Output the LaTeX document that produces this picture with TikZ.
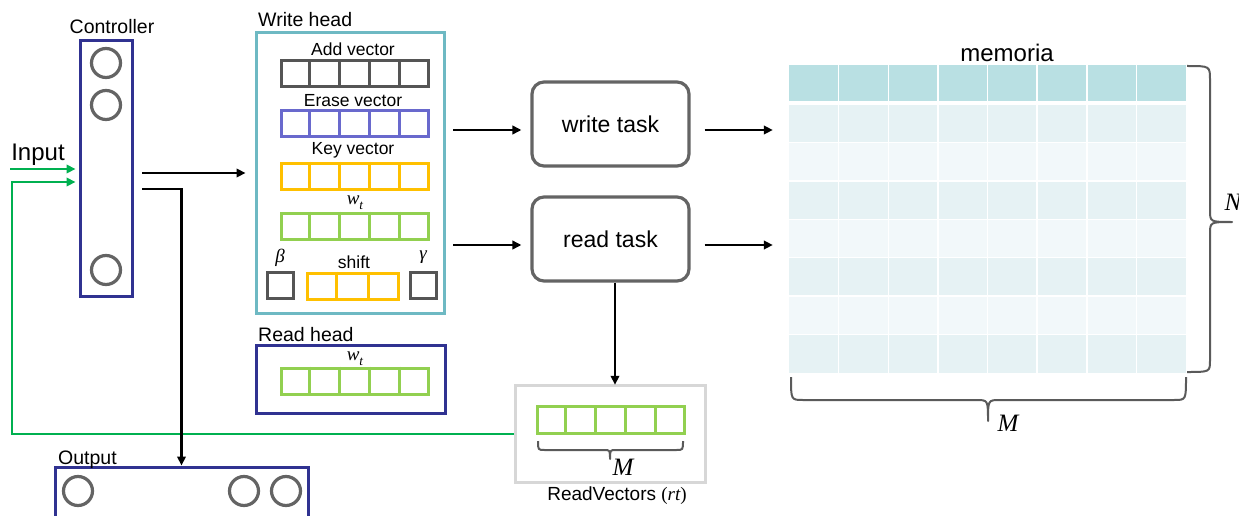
\documentclass[tikz,border=0pt]{standalone}
\usepackage{fontspec}
\setmainfont{Liberation Sans}
\newfontfamily\symfont{Liberation Serif}
\usetikzlibrary{calc,arrows.meta}

\definecolor{navy}{RGB}{48,50,145}
\definecolor{tealb}{RGB}{110,185,195}
\definecolor{ringgray}{RGB}{100,100,100}
\definecolor{darkcell}{RGB}{85,85,85}
\definecolor{purplecell}{RGB}{105,105,205}
\definecolor{orangecell}{RGB}{255,192,0}
\definecolor{greencell}{RGB}{146,208,80}
\definecolor{greenline}{RGB}{0,176,80}
\definecolor{bracegray}{RGB}{90,90,90}
\definecolor{memhead}{RGB}{185,224,227}
\definecolor{memrowA}{RGB}{230,242,244}
\definecolor{memrowB}{RGB}{242,248,250}
\definecolor{rvframe}{RGB}{215,215,215}

% italic symbol set in a serif face
\newcommand\sym[1]{{\symfont\itshape #1}}
% w with subscript t
\newcommand\wsub{\sym{w}\raisebox{-0.28em}{\scalebox{0.7}{\sym{t}}}}

% a framed row of equal cells; #5 = number of inner dividers
\newcommand\cellvec[7]{%
  \node[cellrow, draw=#2, minimum width=#6, minimum height=#7] (#1) at (#3,#4) {};
  \foreach \k in {1,...,#5}
    \draw[#2, line width=3pt]
      ($(#1.north west)!{\k/(#5+1)}!(#1.north east)$) --
      ($(#1.south west)!{\k/(#5+1)}!(#1.south east)$);
}

\begin{document}
\begin{tikzpicture}[x=1pt,y=-1pt,
  frame/.style={draw, line width=3pt, inner sep=0pt, fill=white},
  cellrow/.style={draw, line width=3pt, inner sep=0pt},
  ring/.style={circle, draw=ringgray, line width=3.2pt, minimum size=29pt, inner sep=0pt},
  task/.style={draw=ringgray, line width=3.2pt, rounded corners=12pt,
    minimum width=157pt, minimum height=84pt, inner sep=0pt,
    font=\fontsize{23}{27}\selectfont},
  title/.style={font=\fontsize{19.5}{23}\selectfont, inner sep=0pt},
  small/.style={font=\fontsize{17.5}{21}\selectfont, inner sep=0pt},
  symlbl/.style={font=\fontsize{19}{22}\selectfont, inner sep=0pt},
  biglbl/.style={font=\fontsize{25}{29}\selectfont, inner sep=0pt},
  arr/.style={black, line width=2.3pt, -{Triangle[length=9pt,width=8.5pt]}},
  garr/.style={greenline, line width=2.8pt, -{Triangle[length=9pt,width=8.5pt]}},
  brace/.style={bracegray, line width=2pt, line join=round},
]
\useasboundingbox (0,0) rectangle (1239,516);
\begin{scope}
\clip (0,0) rectangle (1239,516);

% ---------- controller ----------
\node[frame, draw=navy, minimum width=52pt, minimum height=255pt] (ctrl) at (106,168.5) {};
\node[title] (ctrltitle) at (112,27) {Controller};
\node[ring] (c1) at (106,63) {};
\node[ring] (c2) at (106,105) {};
\node[ring] (c3) at (106,270) {};

% ---------- input ----------
\node[font=\fontsize{24}{28}\selectfont, inner sep=0pt] (inptxt) at (38,155) {Input};
\coordinate (inp) at (10,169);
\coordinate (fbcorner) at (12,182);

% ---------- write head ----------
\node[frame, draw=tealb, minimum width=188pt, minimum height=280pt] (wh) at (350,173) {};
\node[title, anchor=base west] (whtitle) at (258,27) {Write head};

\node[small] (addlbl) at (353,49) {Add vector};
\cellvec{addv}{darkcell}{354.5}{74}{4}{147pt}{26pt}
\node[small] (eraselbl) at (353,101) {Erase vector};
\cellvec{erasev}{purplecell}{354.5}{124}{4}{147pt}{26pt}
\node[small] (keylbl) at (353,150) {Key vector};
\cellvec{keyv}{orangecell}{354.5}{176}{4}{147pt}{26pt}
\node[symlbl] (wtlbl) at (355,203) {\wsub};
\cellvec{wtv}{greencell}{354.5}{226}{4}{147pt}{26pt}

\node[symlbl] (betalbl) at (280,258) {\sym{β}};
\node[cellrow, draw=darkcell, minimum size=26pt] (betabox) at (280.5,285.5) {};
\node[small] (shiftlbl) at (354,262) {shift};
\cellvec{shiftv}{orangecell}{352.5}{286}{2}{91pt}{26pt}
\node[symlbl] (gammalbl) at (423,257) {\sym{γ}};
\node[cellrow, draw=darkcell, minimum size=26pt] (gammabox) at (423,285.5) {};

% ---------- read head ----------
\node[frame, draw=navy, minimum width=189pt, minimum height=68pt] (rh) at (350.5,379) {};
\node[title, anchor=base west] (rhtitle) at (258,341) {Read head};
\node[symlbl] (rwtlbl) at (355,359) {\wsub};
\cellvec{rwtv}{greencell}{354.5}{381}{4}{147pt}{26pt}

% ---------- output ----------
\node[frame, draw=navy, minimum width=253pt, minimum height=73pt] (out) at (181.5,503.5) {};
\node[title, anchor=base west] (outtitle) at (58,464) {Output};
\node[ring] (o1) at (78,491) {};
\node[ring] (o2) at (244,491) {};
\node[ring] (o3) at (286,491) {};

% ---------- tasks ----------
\node[task] (wt) at (610.5,124) {write task};
\node[task] (rt) at (610.5,239) {read task};

% ---------- read vectors ----------
\node[frame, draw=rvframe, line width=3.5pt, minimum width=190pt, minimum height=97pt] (rv) at (610.5,434) {};
\cellvec{rvv}{greencell}{610.5}{420}{4}{147pt}{27pt}
\draw[brace] (538,441) .. controls (538,450) .. (545,450) -- (604,450)
  .. controls (610,450) .. (610,459) .. controls (610,450) .. (616,450)
  -- (676,450) .. controls (683,450) .. (683,441);
\node[biglbl] (rvM) at (623,467) {\sym{M}};
\node[font=\fontsize{19}{23}\selectfont, inner sep=0pt] (rvlbl) at (617,496) {ReadVectors \symfont(\sym{rt})};

% ---------- memory ----------
\node[font=\fontsize{24}{28}\selectfont, inner sep=0pt] (memtitle) at (1007,53) {memoria};
\node[minimum width=397pt, minimum height=308pt, inner sep=0pt] (mem) at (987.5,219) {};
\fill[memhead] (789,65) rectangle (1186,102);
\foreach \r in {0,...,6}{
  \pgfmathsetmacro\ya{104+38.43*\r}
  \pgfmathsetmacro\yb{104+38.43*(\r+1)}
  \pgfmathtruncatemacro\odd{mod(\r,2)}
  \ifnum\odd=0
    \fill[memrowA] (789,\ya) rectangle (1186,\yb);
  \else
    \fill[memrowB] (789,\ya) rectangle (1186,\yb);
  \fi
  \draw[white, line width=1.5pt] (789,\ya) -- (1186,\ya);
}
\draw[white, line width=3pt] (789,103) -- (1186,103);
\foreach \c in {1,...,7}
  \draw[white, line width=1.5pt] ({789+49.625*\c},65) -- ({789+49.625*\c},373);

% braces of the memory matrix
\draw[brace] (1187,66) .. controls (1210,66) .. (1210,80) -- (1210,210)
  .. controls (1210,222) .. (1232,222) .. controls (1210,222) .. (1210,234)
  -- (1210,360) .. controls (1210,372) .. (1187,372);
\node[biglbl] (memN) at (1233,202) {\sym{N}};
\draw[brace] (791,377) .. controls (791,400) .. (803,400) -- (976,400)
  .. controls (988,400) .. (988,421) .. controls (988,400) .. (1000,400)
  -- (1174,400) .. controls (1186,400) .. (1186,377);
\node[biglbl] (memM) at (1008,423) {\sym{M}};

% ---------- connectors ----------
\draw[garr] (inp) -- ([xshift=-3pt]ctrl.west |- inp);
\draw[garr] (rv.west) -| (fbcorner) -- ([xshift=-3pt]ctrl.west |- fbcorner);

\coordinate (ctrlout1) at (142,173);
\coordinate (ctrlout2) at (142,189);
\draw[arr] (ctrlout1) -- ([xshift=-9pt]wh.west |- ctrlout1);
\draw[arr] (ctrlout2) -| (out.north);

\coordinate (toW) at (453,130);
\coordinate (toR) at (453,245);
\draw[arr] (toW) -- ([xshift=-9pt]wt.west |- toW);
\draw[arr] (toR) -- ([xshift=-9pt]rt.west |- toR);
\draw[arr] ([xshift=14pt]wt.east |- toW) -- ([xshift=-16pt]mem.west |- toW);
\draw[arr] ([xshift=14pt]rt.east |- toR) -- ([xshift=-16pt]mem.west |- toR);
\draw[arr] ([xshift=4.5pt]rt.south) -- ([xshift=4.5pt,yshift=-1pt]rv.north);

\end{scope}
\end{tikzpicture}
\end{document}
